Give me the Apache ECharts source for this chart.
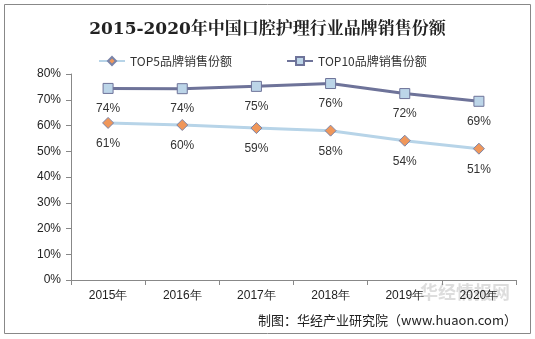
<!DOCTYPE html>
<html><head><meta charset="utf-8">
<script src="https://cdn.jsdelivr.net/npm/echarts@6/dist/echarts.min.js"></script>
<style>html,body{margin:0;padding:0;background:#fff}#c{width:535px;height:339px}</style>
</head><body><div id="c"></div>
<script>
var categories = ['2015年','2016年','2017年','2018年','2019年','2020年'];
var top5 = [61.0, 60.2, 59.0, 58.0, 54.1, 51.0];
var top10 = [74.4, 74.3, 75.2, 76.3, 72.4, 69.4];
var yTicks = [0,10,20,30,40,50,60,70,80];

var chart = echarts.init(document.getElementById('c'));
var lbl = {show:true, position:'bottom', distance:9, color:'#333', fontSize:12, fontFamily:'Liberation Sans, Arial, sans-serif', formatter:function(p){return Math.round(p.value)+'%';}};
chart.setOption({
  animation:false,
  title:{text:'2015-2020年中国口腔护理行业品牌销售份额', left:'center', top:16,
    textStyle:{fontFamily:'DejaVu Serif, Noto Serif CJK SC, Noto Sans CJK SC, serif', fontWeight:'bold', fontSize:17, color:'#222'}},
  graphic:[
    {type:'rect', shape:{x:4.5,y:4.5,width:526,height:329}, style:{fill:'none', stroke:'#888', lineWidth:1}, silent:true},
    {type:'text', right:18, top:314, style:{text:'制图：华经产业研究院（www.huaon.com）', fontSize:13, fill:'#222', fontFamily:'Noto Sans CJK SC, sans-serif'}},
    {type:'text', left:420, top:283, z:-1, style:{text:'华经情报网', fontSize:18, fontWeight:'bold', fill:'rgba(170,170,170,0.4)', fontFamily:'Noto Sans CJK SC, sans-serif'}}
  ],
  legend:{top:50, left:93, itemGap:54, itemWidth:26, itemHeight:10,
    textStyle:{fontSize:12, color:'#333', fontFamily:'Noto Sans CJK SC, sans-serif'},
    data:['TOP5品牌销售份额','TOP10品牌销售份额']},
  grid:{left:71, right:19, top:74, bottom:59, containLabel:false},
  xAxis:{type:'category', data:categories, boundaryGap:true,
    axisLine:{lineStyle:{color:'#888'}}, axisTick:{show:true, length:5, lineStyle:{color:'#888'}},
    axisLabel:{color:'#222', fontSize:12, margin:10, fontFamily:'Liberation Sans, Arial, sans-serif'}},
  yAxis:{type:'value', min:0, max:80, interval:10,
    axisLine:{show:true, lineStyle:{color:'#888'}}, axisTick:{show:true, length:5, lineStyle:{color:'#888'}},
    splitLine:{show:false},
    axisLabel:{color:'#222', fontSize:12, margin:10, fontFamily:'Liberation Sans, Arial, sans-serif', formatter:function(v){return v+'%';}}},
  series:[
    {name:'TOP5品牌销售份额', type:'line', data:top5, symbol:'diamond', symbolSize:11,
      lineStyle:{color:'#B7D4E8', width:3}, itemStyle:{color:'#F0975A', borderColor:'#7A84A8', borderWidth:1}, label:lbl},
    {name:'TOP10品牌销售份额', type:'line', data:top10, symbol:'rect', symbolSize:10,
      lineStyle:{color:'#6E7399', width:3}, itemStyle:{color:'#BCD5E8', borderColor:'#6E7399', borderWidth:1}, label:lbl}
  ]
});
</script></body></html>
